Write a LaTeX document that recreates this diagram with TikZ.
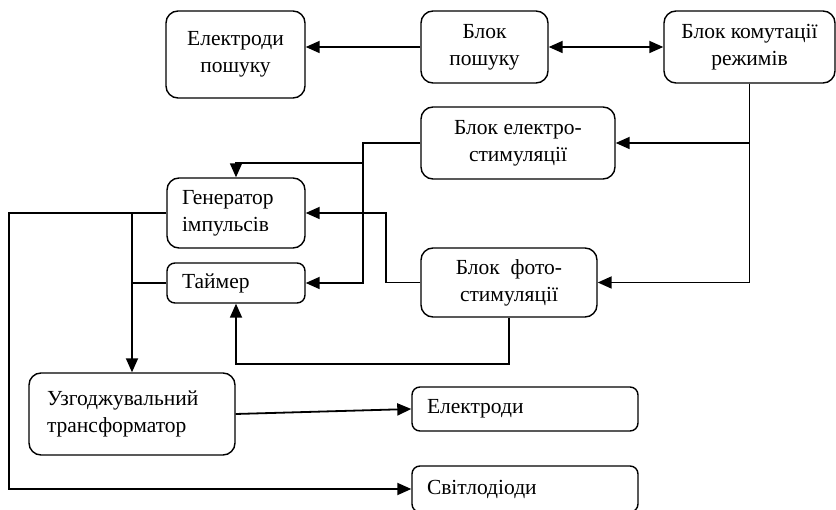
\documentclass[tikz,border=0pt]{standalone}
\usepackage{fontspec}
\setmainfont{Liberation Serif}
\usetikzlibrary{arrows.meta,positioning}

\begin{document}
\begin{tikzpicture}[x=1pt, y=-1pt,
  blk/.style={draw, line width=1.4pt, rounded corners=12pt, align=center,
              inner sep=0pt, font=\fontsize{21.5}{27}\selectfont},
  lblk/.style={blk, align=left, inner xsep=15pt},
  arr/.style={line width=1.8pt, >={Triangle[length=14pt,width=12pt]}, ->},
  ln/.style={line width=1.8pt}]
  \useasboundingbox (0,0) rectangle (836,510);
  \clip (0,0) rectangle (836,510);
  % top row
  \node[blk, minimum width=139pt, minimum height=87pt] (elp) at (235.5,54.5) {Електроди\\пошуку};
  \node[blk, minimum width=127pt, minimum height=72pt] (pos) at (484.5,47) {Блок\\пошуку};
  \node[blk, minimum width=171pt, minimum height=72pt] (kom) at (749.5,47) {Блок комутації\\режимів};
  % stimulation blocks
  \node[blk, minimum width=194pt, minimum height=72pt] (est) at (518,143) {Блок електро-\\стимуляції};
  \node[blk, minimum width=176pt, minimum height=69pt] (fot) at (509,282.5) {Блок\ \ фото-\\стимуляції};
  % generator and timer
  \node[lblk, text width=108pt, minimum height=70pt] (gen) at (236,213) {Генератор\\імпульсів};
  \node[lblk, text width=108pt, minimum height=40pt, rounded corners=8pt] (tim) at (236,283) {Таймер};
  % outputs
  \node[lblk, inner xsep=18pt, text width=170pt, minimum height=82pt] (trf) at (132,414) {Узгоджувальний\\трансформатор};
  \node[lblk, text width=196pt, minimum height=44pt, rounded corners=8pt] (ele) at (525,409) {Електроди};
  \node[lblk, text width=196pt, minimum height=46pt, rounded corners=8pt] (svt) at (525,489) {Світлодіоди};

  \coordinate (bus) at (363,0);
  \coordinate (jg) at (363,163);

  \draw[arr] (pos.west) -- (pos.west -| elp.east);
  \draw[arr, <->] (pos.east) -- (kom.west);
  \draw[arr] (kom.south) |- (est.east);
  \draw[arr] (kom.south) |- (fot.east);
  \draw[arr] (est.west) -- (est.west -| bus) |- (tim.east);
  \draw[arr] (jg) -| (gen.north);
  \draw[arr] (fot.west) -- ++(-34,0) |- (gen.east);
  \draw[arr] (fot.south) -- ++(0,46) -| (tim.south);
  \draw[arr] (gen.west) -- ++(-157,0) |- (svt.west);
  \draw[arr] (gen.west -| trf.north) -- (trf.north);
  \draw[ln] (tim.west) -- (tim.west -| trf.north);
  \draw[arr] (trf.east) -- (ele.west);
\end{tikzpicture}
\end{document}
